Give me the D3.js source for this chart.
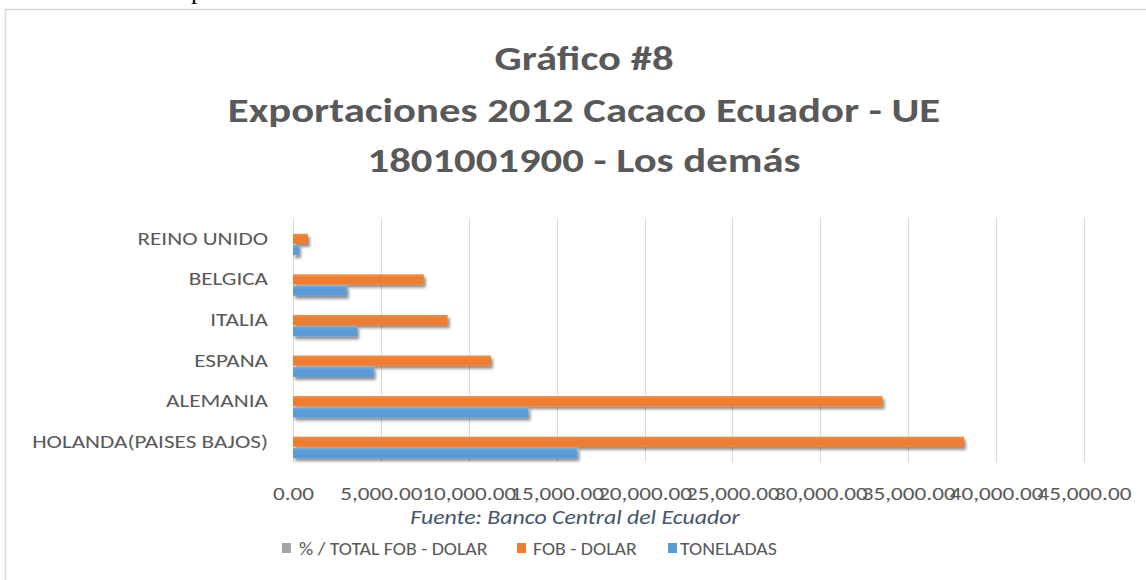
<!DOCTYPE html>
<html>
<head>
<meta charset="utf-8">
<script src="https://cdn.jsdelivr.net/npm/d3@7"></script>
<style>
  html, body { margin: 0; padding: 0; background: #fff; }
  svg { display: block; }
</style>
</head>
<body>
<svg id="chart" width="1146" height="580"></svg>
<script>
// ---- data ----
const titleLines = ["Gráfico #8", "Exportaciones 2012 Cacaco Ecuador - UE", "1801001900 - Los demás"];
const categories = ["HOLANDA(PAISES BAJOS)", "ALEMANIA", "ESPANA", "ITALIA", "BELGICA", "REINO UNIDO"];
const seriesNames = ["% / TOTAL FOB - DOLAR", "FOB - DOLAR", "TONELADAS"];
const pctTotalFob = [0.38, 0.34, 0.11, 0.09, 0.07, 0.01];
const fobDolar = [38170, 33540, 11260, 8800, 7440, 850];
const toneladas = [16180, 13390, 4590, 3640, 3060, 340];
const xTicks = [0, 5000, 10000, 15000, 20000, 25000, 30000, 35000, 40000, 45000];
const sourceNote = "Fuente: Banco Central del Ecuador";

const seriesValues = [pctTotalFob, fobDolar, toneladas];
const colors = ["#A5A5A5", "#ED7D31", "#5B9BD5"];
const FONT = "Carlito, Lato, 'Open Sans', sans-serif";
const TEXT = "#595959";
const SX = 1.22; // horizontal stretch of the reference lettering

const svg = d3.select("#chart");

// defs: shadow + gradients
const defs = svg.append("defs");
const f = defs.append("filter").attr("id", "shadow").attr("x", "-5%").attr("y", "-50%").attr("width", "120%").attr("height", "250%");
f.append("feDropShadow").attr("dx", 2).attr("dy", 3).attr("stdDeviation", 1.8)
  .attr("flood-color", "#000").attr("flood-opacity", 0.45);
colors.forEach((c, i) => {
  const g = defs.append("linearGradient").attr("id", "grad" + i).attr("x1", 0).attr("y1", 0).attr("x2", 0).attr("y2", 1);
  g.append("stop").attr("offset", "0%").attr("stop-color", d3.color(c).brighter(0.35));
  g.append("stop").attr("offset", "35%").attr("stop-color", c);
  g.append("stop").attr("offset", "100%").attr("stop-color", c);
});

// stray glyph from page above
svg.append("text").attr("x", 191).attr("y", -1).attr("font-family", "'Liberation Serif', serif")
  .attr("font-size", 26).attr("fill", "#000").text("p");

// frame
svg.append("rect").attr("x", 5.5).attr("y", 9.5).attr("width", 1200).attr("height", 600)
  .attr("fill", "#fff").attr("stroke", "#D9D9D9").attr("stroke-width", 1.5);

function stretchedText(parent, x, y, sx, size) {
  return parent.append("text").attr("transform", `translate(${x},${y}) scale(${sx},1)`)
    .attr("font-family", FONT).attr("font-size", size);
}

// titles
const titleBaselines = [70, 122, 172];
titleLines.forEach((t, i) => {
  stretchedText(svg, 584, titleBaselines[i], SX, 35)
    .attr("text-anchor", "middle").attr("font-weight", "bold").attr("fill", TEXT).text(t);
});

// scales
const plot = { left: 293, right: 1084, top: 218.5, bottom: 462 };
const x = d3.scaleLinear().domain([0, 45000]).range([plot.left, plot.right]);
const y = d3.scaleBand().domain(categories.slice().reverse()).range([plot.top, plot.bottom]).paddingInner(0).paddingOuter(0);
const ySub = d3.scaleBand().domain(seriesNames).range([0, y.bandwidth()]).paddingInner(0.1).paddingOuter(0.35);

// gridlines
svg.append("g").selectAll("line").data(xTicks).join("line")
  .attr("x1", d => Math.round(x(d)) + 0.5).attr("x2", d => Math.round(x(d)) + 0.5)
  .attr("y1", plot.top).attr("y2", plot.bottom)
  .attr("stroke", "#D9D9D9").attr("stroke-width", 1);

// x axis tick labels
const xAxis = d3.axisBottom(x).tickValues(xTicks).tickSize(0).tickPadding(0)
  .tickFormat(d3.format(",.2f"));
const gx = svg.append("g").attr("transform", `translate(0, ${plot.bottom + 38})`).call(xAxis);
gx.select(".domain").remove();
gx.selectAll("text").attr("font-family", FONT).attr("font-size", 19).attr("fill", TEXT)
  .attr("dy", 0).attr("y", 0).attr("transform", `scale(${SX},1)`);

// y axis labels
const yAxis = d3.axisLeft(y).tickSize(0).tickPadding(0);
const gy = svg.append("g").attr("transform", `translate(${plot.left - 25}, 0)`).call(yAxis);
gy.select(".domain").remove();
gy.selectAll("text").attr("font-family", FONT).attr("font-size", 19).attr("fill", TEXT)
  .attr("x", 0).attr("transform", `scale(${SX},1)`);

// bars
const rows = [];
categories.forEach((c, ci) => seriesNames.forEach((s, si) => rows.push({ cat: c, s, si, v: seriesValues[si][ci] })));
svg.append("g").attr("filter", "url(#shadow)").selectAll("rect").data(rows).join("rect")
  .attr("x", x(0))
  .attr("y", d => y(d.cat) + ySub(d.s))
  .attr("width", d => x(d.v) - x(0))
  .attr("height", ySub.bandwidth())
  .attr("fill", d => `url(#grad${d.si})`);

// source note
stretchedText(svg, 575, 524, SX, 19.5)
  .attr("text-anchor", "middle").attr("font-style", "italic")
  .attr("fill", "#44546A").text(sourceNote);

// legend
const legendSquareX = [282, 517, 668];
const legendTextX = [299, 533, 680];
const lg = svg.append("g");
seriesNames.forEach((name, i) => {
  lg.append("rect").attr("x", legendSquareX[i]).attr("y", 543).attr("width", 9).attr("height", 10)
    .attr("fill", colors[i]);
  stretchedText(lg, legendTextX[i], 555, 1.12, 17.7).attr("fill", TEXT).text(name);
});
</script>
</body>
</html>
